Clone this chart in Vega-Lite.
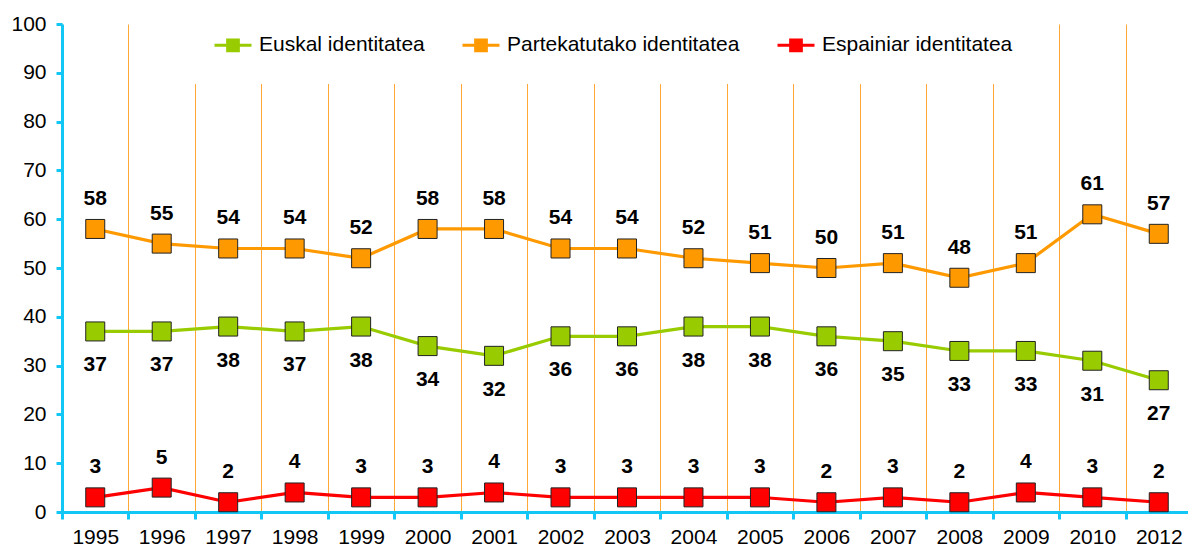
{
  "$schema": "https://vega.github.io/schema/vega-lite/v6.json",
  "width": 1130,
  "height": 488,
  "autosize": {"type": "none"},
  "padding": {"left": 62, "top": 24, "right": 0, "bottom": 42},
  "background": "white",
  "config": {"view": {"stroke": null}, "font": "Liberation Sans"},
  "data": {"values": [
    {"year": "1995", "series": "Euskal identitatea", "value": 37},
    {"year": "1996", "series": "Euskal identitatea", "value": 37},
    {"year": "1997", "series": "Euskal identitatea", "value": 38},
    {"year": "1998", "series": "Euskal identitatea", "value": 37},
    {"year": "1999", "series": "Euskal identitatea", "value": 38},
    {"year": "2000", "series": "Euskal identitatea", "value": 34},
    {"year": "2001", "series": "Euskal identitatea", "value": 32},
    {"year": "2002", "series": "Euskal identitatea", "value": 36},
    {"year": "2003", "series": "Euskal identitatea", "value": 36},
    {"year": "2004", "series": "Euskal identitatea", "value": 38},
    {"year": "2005", "series": "Euskal identitatea", "value": 38},
    {"year": "2006", "series": "Euskal identitatea", "value": 36},
    {"year": "2007", "series": "Euskal identitatea", "value": 35},
    {"year": "2008", "series": "Euskal identitatea", "value": 33},
    {"year": "2009", "series": "Euskal identitatea", "value": 33},
    {"year": "2010", "series": "Euskal identitatea", "value": 31},
    {"year": "2012", "series": "Euskal identitatea", "value": 27},
    {"year": "1995", "series": "Partekatutako identitatea", "value": 58},
    {"year": "1996", "series": "Partekatutako identitatea", "value": 55},
    {"year": "1997", "series": "Partekatutako identitatea", "value": 54},
    {"year": "1998", "series": "Partekatutako identitatea", "value": 54},
    {"year": "1999", "series": "Partekatutako identitatea", "value": 52},
    {"year": "2000", "series": "Partekatutako identitatea", "value": 58},
    {"year": "2001", "series": "Partekatutako identitatea", "value": 58},
    {"year": "2002", "series": "Partekatutako identitatea", "value": 54},
    {"year": "2003", "series": "Partekatutako identitatea", "value": 54},
    {"year": "2004", "series": "Partekatutako identitatea", "value": 52},
    {"year": "2005", "series": "Partekatutako identitatea", "value": 51},
    {"year": "2006", "series": "Partekatutako identitatea", "value": 50},
    {"year": "2007", "series": "Partekatutako identitatea", "value": 51},
    {"year": "2008", "series": "Partekatutako identitatea", "value": 48},
    {"year": "2009", "series": "Partekatutako identitatea", "value": 51},
    {"year": "2010", "series": "Partekatutako identitatea", "value": 61},
    {"year": "2012", "series": "Partekatutako identitatea", "value": 57},
    {"year": "1995", "series": "Espainiar identitatea", "value": 3},
    {"year": "1996", "series": "Espainiar identitatea", "value": 5},
    {"year": "1997", "series": "Espainiar identitatea", "value": 2},
    {"year": "1998", "series": "Espainiar identitatea", "value": 4},
    {"year": "1999", "series": "Espainiar identitatea", "value": 3},
    {"year": "2000", "series": "Espainiar identitatea", "value": 3},
    {"year": "2001", "series": "Espainiar identitatea", "value": 4},
    {"year": "2002", "series": "Espainiar identitatea", "value": 3},
    {"year": "2003", "series": "Espainiar identitatea", "value": 3},
    {"year": "2004", "series": "Espainiar identitatea", "value": 3},
    {"year": "2005", "series": "Espainiar identitatea", "value": 3},
    {"year": "2006", "series": "Espainiar identitatea", "value": 2},
    {"year": "2007", "series": "Espainiar identitatea", "value": 3},
    {"year": "2008", "series": "Espainiar identitatea", "value": 2},
    {"year": "2009", "series": "Espainiar identitatea", "value": 4},
    {"year": "2010", "series": "Espainiar identitatea", "value": 3},
    {"year": "2012", "series": "Espainiar identitatea", "value": 2}
  ]},
  "encoding": {
    "x": {
      "field": "year", "type": "ordinal", "title": null,
      "scale": {"type": "band", "paddingInner": 0, "paddingOuter": 0},
      "axis": {
        "labelAngle": 0, "labelFontSize": 21, "labelColor": "black", "labelPadding": 7,
        "domainColor": "#12C6F5", "domainWidth": 3,
        "tickColor": "#12C6F5", "tickWidth": 3, "tickSize": 7, "tickBand": "extent",
        "grid": true, "gridColor": "#FFA838", "gridWidth": 1
      }
    },
    "y": {
      "field": "value", "type": "quantitative", "title": null,
      "scale": {"domain": [0, 100]},
      "axis": {
        "values": [0, 10, 20, 30, 40, 50, 60, 70, 80, 90, 100],
        "grid": false, "labelFontSize": 21, "labelColor": "black", "labelPadding": 10,
        "domainColor": "#12C6F5", "domainWidth": 3,
        "tickColor": "#12C6F5", "tickWidth": 3, "tickSize": 6
      }
    }
  },
  "layer": [
    {
      "mark": {"type": "line", "strokeWidth": 3.2},
      "encoding": {
        "stroke": {
          "field": "series", "type": "nominal",
          "scale": {"domain": ["Euskal identitatea", "Partekatutako identitatea", "Espainiar identitatea"], "range": ["#99CC00", "#FF9900", "#FF0000"]},
          "legend": {
            "title": null, "orient": "none", "legendX": 124, "legendY": -26, "direction": "horizontal",
            "labelFontSize": 21, "labelColor": "black", "labelLimit": 500, "symbolSize": 1369,
            "symbolType": "M-1,0L1,0M-0.29,-0.29L0.29,-0.29L0.29,0.29L-0.29,0.29Z",
            "symbolStrokeWidth": 3, "symbolOpacity": 1, "labelOffset": 6, "columnPadding": 31, "padding": 27,
            "fillColor": "white",
            "encode": {"symbols": {"update": {"fill": {"signal": "scale('stroke', datum.value)"}}}}
          }
        }
      }
    },
    {
      "mark": {"type": "point", "shape": "square", "filled": true, "size": 361, "stroke": "#222222", "strokeWidth": 1, "opacity": 1},
      "encoding": {
        "fill": {
          "field": "series", "type": "nominal",
          "sort": ["Euskal identitatea", "Partekatutako identitatea", "Espainiar identitatea"],
          "scale": {"range": ["#99CC00", "#FF9900", "#FF0000"]},
          "legend": null
        }
      }
    },
    {
      "transform": [{"filter": "datum.series === 'Partekatutako identitatea'"}],
      "mark": {"type": "text", "fontSize": 21, "fontWeight": "bold", "color": "black", "dy": -30},
      "encoding": {"text": {"field": "value", "type": "quantitative"}}
    },
    {
      "transform": [{"filter": "datum.series === 'Euskal identitatea'"}],
      "mark": {"type": "text", "fontSize": 21, "fontWeight": "bold", "color": "black", "dy": 34},
      "encoding": {"text": {"field": "value", "type": "quantitative"}}
    },
    {
      "transform": [{"filter": "datum.series === 'Espainiar identitatea'"}],
      "mark": {"type": "text", "fontSize": 21, "fontWeight": "bold", "color": "black", "dy": -30},
      "encoding": {"text": {"field": "value", "type": "quantitative"}}
    }
  ]
}
